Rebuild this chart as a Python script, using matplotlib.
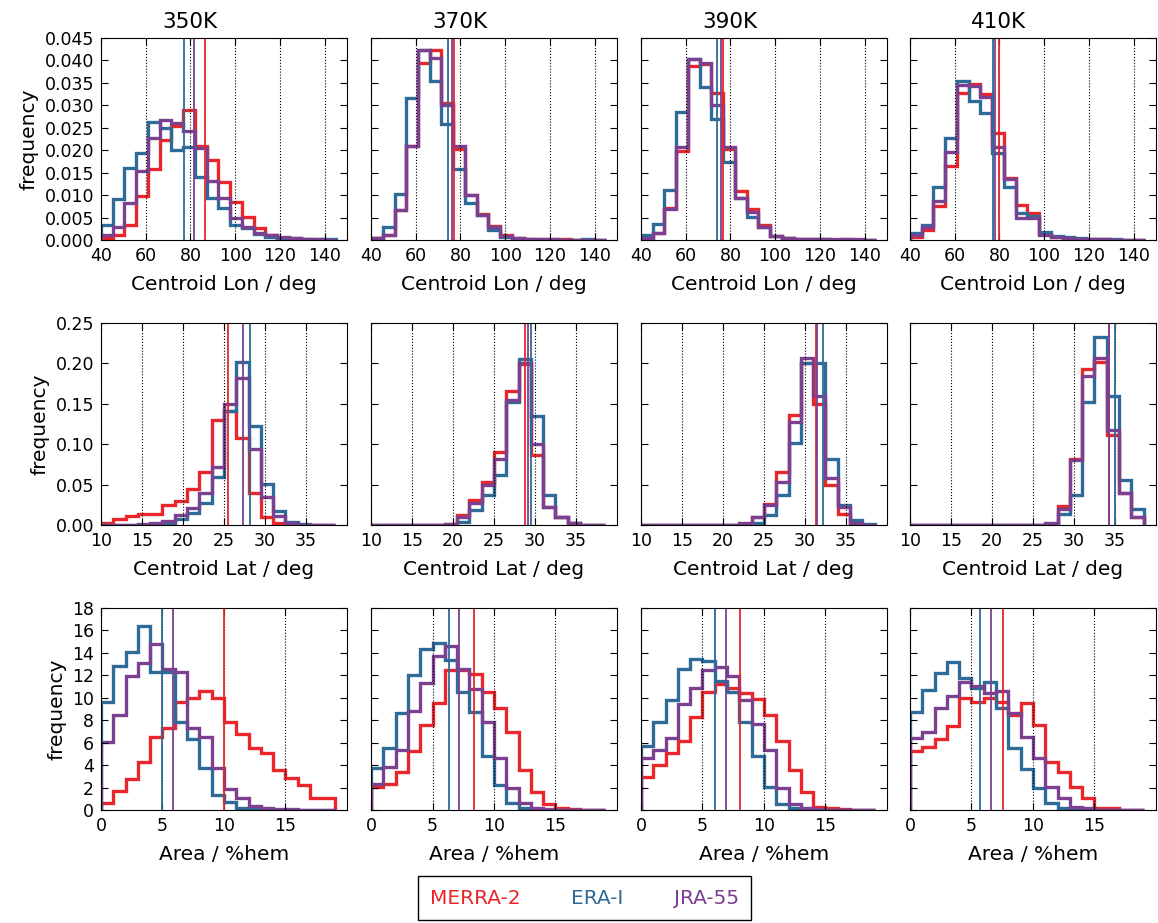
import numpy as np
import matplotlib
matplotlib.use('Agg')
import matplotlib.pyplot as plt
from matplotlib.lines import Line2D

levels = ['350K', '370K', '390K', '410K']
names = ['MERRA-2', 'ERA-I', 'JRA-55']
colors = ['#e8262b', '#2e6b98', '#7b4190']

# bin edges of the three quantities
lon_edges = np.linspace(40, 145, 21)
lat_edges = np.linspace(10, 38.5, 20)
area_edges = np.arange(0, 20)

# centroid longitude, one list per level
lon_merra = [
    [0.0004, 0.001, 0.0033, 0.0097, 0.0158, 0.0223, 0.0253, 0.029, 0.021, 0.0179, 0.013, 0.0085, 0.0052, 0.0026, 0.001, 0.0005, 0.0003, 0.0002, 0.0001, 0.0001],
    [0.0004, 0.001, 0.0067, 0.021, 0.0394, 0.0422, 0.0305, 0.0203, 0.01, 0.0057, 0.0032, 0.001, 0.0004, 0.0003, 0.0002, 0.0002, 0.0003, 0.0001, 0.0001, 0.0001],
    [0.0003, 0.0015, 0.0071, 0.0197, 0.0387, 0.0392, 0.0327, 0.0203, 0.0108, 0.0069, 0.0033, 0.0008, 0.0005, 0.0003, 0.0002, 0.0002, 0.0001, 0.0002, 0.0001, 0.0001],
    [0.0007, 0.0022, 0.0075, 0.0164, 0.0327, 0.0348, 0.0324, 0.0238, 0.0138, 0.0078, 0.006, 0.0013, 0.0006, 0.0004, 0.0003, 0.0002, 0.0002, 0.0001, 0.0001, 0.0001],
]
lon_era = [
    [0.0033, 0.0091, 0.0161, 0.0193, 0.0263, 0.0249, 0.0201, 0.0208, 0.0141, 0.0093, 0.0071, 0.0033, 0.0026, 0.0013, 0.0007, 0.0005, 0.0004, 0.0003, 0.0003, 0.0002],
    [0.0004, 0.0028, 0.0102, 0.0316, 0.0422, 0.0353, 0.0258, 0.0158, 0.0082, 0.0056, 0.0022, 0.0007, 0.0003, 0.0002, 0.0001, 0.0001, 0.0001, 0.0001, 0.0003, 0.0001],
    [0.001, 0.0036, 0.0112, 0.0285, 0.0403, 0.034, 0.0269, 0.0173, 0.0094, 0.0052, 0.003, 0.0008, 0.0005, 0.0003, 0.0002, 0.0002, 0.0001, 0.0001, 0.0001, 0.0001],
    [0.0015, 0.0033, 0.0119, 0.0227, 0.0353, 0.031, 0.0283, 0.0193, 0.0119, 0.006, 0.0054, 0.0017, 0.0008, 0.0006, 0.0004, 0.0003, 0.0002, 0.0002, 0.0001, 0.0001],
]
lon_jra = [
    [0.001, 0.003, 0.0082, 0.0154, 0.0227, 0.0266, 0.026, 0.0242, 0.0205, 0.0132, 0.0093, 0.0048, 0.0028, 0.0015, 0.001, 0.0006, 0.0004, 0.0003, 0.0002, 0.0001],
    [0.0004, 0.001, 0.0067, 0.021, 0.0422, 0.0405, 0.03, 0.021, 0.01, 0.0055, 0.0028, 0.0008, 0.0004, 0.0003, 0.0002, 0.0002, 0.0001, 0.0001, 0.0001, 0.0001],
    [0.0004, 0.0016, 0.007, 0.0208, 0.0403, 0.0395, 0.03, 0.0208, 0.0093, 0.0062, 0.003, 0.0008, 0.0004, 0.0003, 0.0003, 0.0002, 0.0003, 0.0003, 0.0002, 0.0001],
    [0.001, 0.003, 0.0086, 0.0195, 0.0344, 0.0342, 0.0318, 0.0208, 0.0136, 0.0048, 0.0048, 0.0011, 0.0006, 0.0004, 0.0003, 0.0002, 0.0002, 0.0001, 0.0001, 0.0001],
]
lon_mean_merra = [86.6, 76.9, 76.6, 79.6]
lon_mean_era = [77.3, 74.3, 74.2, 77.3]
lon_mean_jra = [81.8, 76.1, 75.8, 78.1]

# centroid latitude
lat_merra = [
    [0.002, 0.0074, 0.011, 0.0135, 0.0135, 0.0246, 0.0295, 0.045, 0.0656, 0.130, 0.141, 0.107, 0.039, 0.010, 0.002, 0.0005, 0.0002, 0.0, 0.0],
    [0.0, 0.0, 0.0, 0.0, 0.0, 0.0002, 0.001, 0.012, 0.031, 0.053, 0.09, 0.166, 0.199, 0.086, 0.0225, 0.01, 0.002, 0.0005, 0.0],
    [0.0, 0.0, 0.0, 0.0, 0.0, 0.0, 0.0, 0.0, 0.001, 0.01, 0.026, 0.066, 0.136, 0.2, 0.15, 0.049, 0.014, 0.001, 0.0],
    [0.0, 0.0, 0.0, 0.0, 0.0, 0.0, 0.0, 0.0, 0.0, 0.0, 0.0, 0.001, 0.023, 0.082, 0.193, 0.201, 0.111, 0.039, 0.0094],
]
lat_era = [
    [0.0, 0.0, 0.0, 0.0005, 0.001, 0.002, 0.0074, 0.0143, 0.0266, 0.0594, 0.1414, 0.2016, 0.123, 0.0512, 0.0172, 0.0033, 0.0008, 0.0002, 0.0],
    [0.0, 0.0, 0.0, 0.0, 0.0, 0.0, 0.0003, 0.004, 0.018, 0.037, 0.0615, 0.152, 0.205, 0.135, 0.037, 0.01, 0.003, 0.0005, 0.0],
    [0.0, 0.0, 0.0, 0.0, 0.0, 0.0, 0.0, 0.0, 0.0, 0.002, 0.0123, 0.037, 0.102, 0.2, 0.2, 0.082, 0.025, 0.006, 0.001],
    [0.0, 0.0, 0.0, 0.0, 0.0, 0.0, 0.0, 0.0, 0.0, 0.0, 0.0, 0.0, 0.013, 0.037, 0.152, 0.232, 0.16, 0.056, 0.02],
]
lat_jra = [
    [0.0, 0.0, 0.0002, 0.001, 0.002, 0.005, 0.0123, 0.0213, 0.039, 0.0717, 0.1496, 0.1824, 0.0943, 0.0348, 0.0115, 0.002, 0.0005, 0.0001, 0.0],
    [0.0, 0.0, 0.0, 0.0, 0.0, 0.0002, 0.001, 0.01, 0.027, 0.05, 0.082, 0.155, 0.2, 0.1, 0.022, 0.01, 0.002, 0.0005, 0.0],
    [0.0, 0.0, 0.0, 0.0, 0.0, 0.0, 0.0, 0.0, 0.002, 0.01, 0.025, 0.053, 0.127, 0.206, 0.16, 0.058, 0.022, 0.002, 0.0],
    [0.0, 0.0, 0.0, 0.0, 0.0, 0.0, 0.0, 0.0, 0.0, 0.0, 0.0005, 0.002, 0.0197, 0.08, 0.184, 0.207, 0.117, 0.039, 0.0094],
]
lat_mean_merra = [25.45, 28.8, 31.3, 34.3]
lat_mean_era = [28.17, 29.5, 32.2, 35.0]
lat_mean_jra = [27.36, 29.1, 31.5, 34.3]

# area
area_merra = [
    [0.6, 1.7, 2.76, 4.24, 6.53, 7.33, 9.64, 10.0, 10.6, 10.0, 7.8, 6.74, 5.5, 5.04, 3.56, 2.88, 2.23, 1.1, 1.1],
    [2.08, 2.28, 3.41, 5.28, 7.57, 9.5, 12.46, 12.46, 12.08, 10.47, 9.05, 6.97, 3.56, 1.63, 0.5, 0.2, 0.1, 0.0, 0.0],
    [2.97, 4.0, 5.04, 6.14, 8.3, 10.47, 11.19, 10.9, 10.4, 9.88, 8.46, 6.14, 3.56, 1.57, 0.3, 0.15, 0.05, 0.0, 0.0],
    [5.25, 5.64, 6.32, 7.5, 10.0, 9.64, 10.0, 9.64, 8.46, 9.5, 7.57, 4.3, 3.35, 2.08, 1.1, 0.2, 0.15, 0.0, 0.0],
]
area_era = [
    [9.64, 12.85, 14.1, 16.4, 12.3, 12.3, 7.86, 6.3, 3.7, 1.33, 0.68, 0.2, 0.1, 0.05, 0.02, 0.01, 0.0, 0.0, 0.0],
    [3.77, 5.49, 8.66, 12.0, 14.3, 14.84, 13.35, 10.5, 8.75, 4.84, 2.23, 0.6, 0.2, 0.1, 0.0, 0.0, 0.0, 0.0, 0.0],
    [5.73, 7.86, 9.79, 12.6, 13.44, 13.26, 11.48, 10.53, 7.8, 4.84, 2.08, 0.5, 0.15, 0.05, 0.0, 0.0, 0.0, 0.0, 0.0],
    [8.69, 10.68, 12.17, 13.2, 11.72, 10.89, 11.36, 9.11, 5.49, 3.65, 1.93, 0.6, 0.15, 0.0, 0.0, 0.0, 0.0, 0.0, 0.0],
]
area_jra = [
    [6.08, 8.46, 11.96, 13.06, 14.75, 12.55, 12.25, 7.27, 6.53, 3.77, 1.87, 1.04, 0.36, 0.2, 0.1, 0.05, 0.03, 0.02, 0.01],
    [2.28, 3.86, 5.34, 8.81, 11.28, 13.74, 14.63, 12.6, 10.77, 7.86, 4.66, 1.99, 0.6, 0.2, 0.1, 0.0, 0.0, 0.0, 0.0],
    [4.66, 5.34, 6.44, 9.4, 10.83, 12.46, 12.76, 11.96, 9.79, 7.62, 5.34, 1.93, 0.5, 0.2, 0.1, 0.0, 0.0, 0.0, 0.0],
    [6.44, 6.97, 9.11, 10.18, 11.36, 11.07, 10.39, 10.6, 8.6, 6.53, 4.6, 2.08, 1.04, 0.3, 0.15, 0.0, 0.0, 0.0, 0.0],
]
area_mean_merra = [9.97, 8.4, 8.05, 7.55]
area_mean_era = [4.97, 6.34, 6.0, 5.7]
area_mean_jra = [5.84, 7.18, 6.9, 6.6]

rows = [
    (lon_edges, [lon_merra, lon_era, lon_jra], [lon_mean_merra, lon_mean_era, lon_mean_jra],
     'Centroid Lon / deg', (40, 150), np.arange(40, 141, 20), (0, 0.045), np.arange(0, 0.0451, 0.005), '%.3f'),
    (lat_edges, [lat_merra, lat_era, lat_jra], [lat_mean_merra, lat_mean_era, lat_mean_jra],
     'Centroid Lat / deg', (10, 40), np.arange(10, 36, 5), (0, 0.25), np.arange(0, 0.251, 0.05), '%.2f'),
    (area_edges, [area_merra, area_era, area_jra], [area_mean_merra, area_mean_era, area_mean_jra],
     'Area / %hem', (0, 20), np.arange(0, 16, 5), (0, 18), np.arange(0, 19, 2), '%d'),
]

fig = plt.figure(figsize=(11.58, 9.23), dpi=100)
lefts = [0.0872, 0.3204, 0.5535, 0.7858]
bottoms = [0.740, 0.4312, 0.1224]
w, h = 0.2124, 0.219

for r, (edges, series, means, xlab, xlim, xt, ylim, yt, yfmt) in enumerate(rows):
    for c in range(4):
        ax = fig.add_axes([lefts[c], bottoms[r], w, h])
        for vals, mu, col in zip(series, means, colors):
            ax.stairs(vals[c], edges, color=col, lw=2.4)
            ax.axvline(mu[c], color=col, lw=1.3)
        ax.set_xlim(*xlim)
        ax.set_ylim(*ylim)
        ax.set_xticks(xt)
        ax.set_yticks(yt)
        ax.xaxis.grid(True, color='black', linestyle=':', lw=0.8)
        ax.tick_params(direction='in', top=True, right=True, labelsize=12.5, length=5, pad=5)
        if c == 0:
            ax.set_yticklabels([yfmt % v for v in yt])
            ax.set_ylabel('frequency', fontsize=14.5)
        else:
            ax.set_yticklabels([])
        ax.set_xlabel(xlab, fontsize=14.5, labelpad=7)
        if r == 0:
            ax.set_title(levels[c], fontsize=15.5, pad=7, x=0.36)

handles = [Line2D([], [], lw=0) for _ in names]
fig.legend(handles, names, loc='center', bbox_to_anchor=(0.505, 0.027), ncol=3,
           handlelength=0, handletextpad=0, columnspacing=2.5, fontsize=14.5,
           borderpad=0.6, labelcolor=colors, fancybox=False, edgecolor='black',
           framealpha=1)

fig.savefig('out.png', dpi=100)
